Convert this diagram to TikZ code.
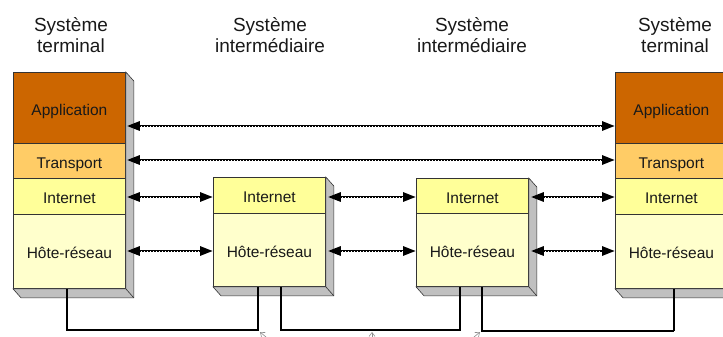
\documentclass[tikz,border=0pt]{standalone}
\usepackage{fontspec}
\setmainfont{Liberation Sans}
\usetikzlibrary{arrows.meta,calc}

\definecolor{appcol}{HTML}{CC6600}
\definecolor{tracol}{HTML}{FFCC66}
\definecolor{inetcol}{HTML}{FFFF99}
\definecolor{hostcol}{HTML}{FFFFCC}
\definecolor{sidecol}{HTML}{C0C0C0}
\definecolor{edgecol}{HTML}{333333}

\tikzset{
  layer/.style={draw=edgecol, line width=0.8pt, rectangle, anchor=north west,
    minimum width=112pt, inner sep=0pt, text=black!90,
    text height=15pt, text depth=0pt,
    font=\fontsize{15.5}{18}\selectfont},
  title/.style={align=center, inner sep=0pt, text=black!90,
    font=\fontsize{19}{21}\selectfont},
  side/.style={fill=sidecol, draw=edgecol, line width=0.6pt},
  link/.style={line width=2.8pt, black,
    {Triangle[length=13pt,width=9pt]}-{Triangle[length=13pt,width=9pt]},
    postaction={draw=white, line width=0.9pt, dash pattern=on 1.1pt off 1.9pt,
      arrows=-, shorten <=14pt, shorten >=14pt}},
  wire/.style={line width=1.3pt},
  thickwire/.style={line width=2.2pt},
  lead/.style={draw=black!45, line width=0.6pt, -{Straight Barb[length=4pt,width=6pt]}}
}

% grey extrusion on the right and bottom of a stack of layers
\newcommand{\extrude}[2]{%
  \filldraw[side] (#1.north east) -- ([shift={(8,9)}]#1.north east)
    -- ([shift={(8,9)}]#2.south east) -- ([shift={(8,9)}]#2.south west)
    -- (#2.south west) -- (#2.south east) -- cycle;
  \draw[edgecol, line width=0.6pt] (#2.south east) -- ([shift={(8,9)}]#2.south east);
}

\begin{document}
\begin{tikzpicture}[x=1pt, y=-1pt]
\useasboundingbox (0,0) rectangle (723,337);
\clip (0,0) rectangle (723,337);

% column titles
\node[title] (h1) at (71,35)  {Système\\terminal};
\node[title] (h2) at (270,35) {Système\\intermédiaire};
\node[title] (h3) at (472,35) {Système\\intermédiaire};
\node[title] (h4) at (675,35) {Système\\terminal};

% left end system
\node[layer, fill=appcol,  minimum height=71pt] (lApp) at (13,72)  {Application};
\node[layer, fill=tracol,  minimum height=35pt] (lTra) at (13,143) {Transport};
\node[layer, fill=inetcol, minimum height=36pt] (lNet) at (13,178) {Internet};
\node[layer, fill=hostcol, minimum height=74pt] (lHost) at (13,214) {Hôte-réseau};
\extrude{lApp}{lHost}

% first router
\node[layer, fill=inetcol, minimum height=36pt] (aNet) at (213,177) {Internet};
\node[layer, fill=hostcol, minimum height=73pt] (aHost) at (213,213) {Hôte-réseau};
\extrude{aNet}{aHost}

% second router
\node[layer, fill=inetcol, minimum height=35pt] (bNet) at (416,178) {Internet};
\node[layer, fill=hostcol, minimum height=73pt] (bHost) at (416,213) {Hôte-réseau};
\extrude{bNet}{bHost}

% right end system
\node[layer, fill=appcol,  minimum height=71pt] (rApp) at (615,72)  {Application};
\node[layer, fill=tracol,  minimum height=35pt] (rTra) at (615,143) {Transport};
\node[layer, fill=inetcol, minimum height=36pt] (rNet) at (615,178) {Internet};
\node[layer, fill=hostcol, minimum height=74pt] (rHost) at (615,214) {Hôte-réseau};
\extrude{rApp}{rHost}

% peer-to-peer exchanges between layers
\coordinate (yApp)  at (0,126);
\coordinate (yTra)  at (0,160);
\coordinate (yNet)  at (0,197);
\coordinate (yHost) at (0,251);

\draw[link] ([xshift=1pt]lApp.east |- yApp) -- (rApp.west |- yApp);
\draw[link] ([xshift=1pt]lTra.east |- yTra) -- (rTra.west |- yTra);

\draw[link] ([xshift=1pt]lNet.east |- yNet) -- (aNet.west |- yNet);
\draw[link] ([xshift=2pt]aNet.east |- yNet) -- (bNet.west |- yNet);
\draw[link] ([xshift=2pt]bNet.east |- yNet) -- (rNet.west |- yNet);

\draw[link] ([xshift=1pt]lHost.east |- yHost) -- (aHost.west |- yHost);
\draw[link] ([xshift=2pt]aHost.east |- yHost) -- (bHost.west |- yHost);
\draw[link] ([xshift=2pt]bHost.east |- yHost) -- (rHost.west |- yHost);

% physical links
\coordinate (pL)  at (67,0);
\coordinate (pA1) at (258,0);
\coordinate (pA2) at (281,0);
\coordinate (pB1) at (460,0);
\coordinate (pB2) at (482,0);
\coordinate (pR)  at (674,0);
\coordinate (yW)  at (0,330);
\coordinate (yT)  at (0,331);

\draw[wire] (lHost.south -| pL) -- (pL |- yW) -- (pA1 |- yW) -- (aHost.south -| pA1);
\draw[wire] (aHost.south -| pA2) -- (pA2 |- yW) -- (pB1 |- yW) -- (bHost.south -| pB1);
\draw[thickwire] (bHost.south -| pB2) -- (pB2 |- yT) -- (pR |- yT);
\draw[wire] (pR |- yT) -- (rHost.south -| pR);

% leader arrows entering from below
\draw[lead] (272,342) -- (260,332);
\draw[lead] (372,344) -- (372,332);
\draw[lead] (468,342) -- (480,332);
\end{tikzpicture}
\end{document}
